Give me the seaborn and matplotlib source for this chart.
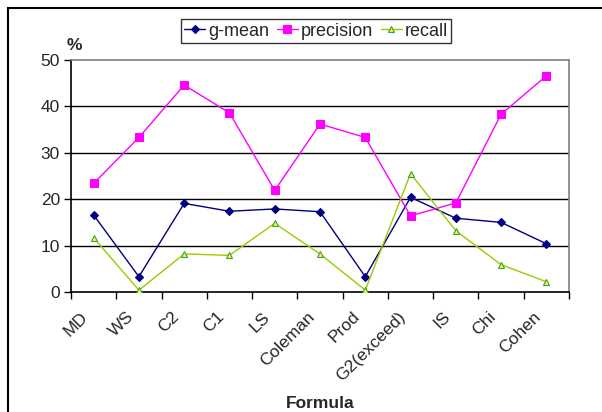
import matplotlib
matplotlib.use("Agg")
import matplotlib.pyplot as plt
import matplotlib.transforms as mtransforms
import seaborn as sns
import pandas as pd
import numpy as np
from matplotlib.patches import Rectangle

formulas = ["MD", "WS", "C2", "C1", "LS", "Coleman", "Prod", "G2(exceed)", "IS", "Chi", "Cohen"]
g_mean = [16.6, 3.3, 19.1, 17.4, 17.9, 17.3, 3.3, 20.4, 15.9, 15.0, 10.4]
precision = [23.4, 33.3, 44.6, 38.6, 21.9, 36.2, 33.3, 16.4, 19.2, 38.3, 46.6]
recall = [11.7, 0.4, 8.2, 7.9, 14.8, 8.2, 0.4, 25.5, 13.2, 5.9, 2.2]
y_ticks = [0, 10, 20, 30, 40, 50]

sns.set_theme(style="white")
plt.rcParams['font.family'] = ['Liberation Sans', 'DejaVu Sans']

fig = plt.figure(figsize=(6.02, 4.12), dpi=100)
W, H = 602, 412
ax = fig.add_axes([71 / W, (H - 292) / H, (569 - 71) / W, (292 - 60) / H])

# outer chart border (left and top visible)
fig.patches.append(Rectangle((8 / W, -0.1), 1.2, (H - 8) / H + 0.1, transform=fig.transFigure,
                             fill=False, edgecolor="black", linewidth=1.5, zorder=0))

df = pd.DataFrame({"Formula": formulas * 3,
                   "value": g_mean + precision + recall,
                   "series": ["g-mean"] * 11 + ["precision"] * 11 + ["recall"] * 11})
df["x"] = np.tile(np.arange(len(formulas)), 3)

styles = {
    "g-mean": dict(color="#000080", marker="D", markersize=4, mfc="#000080", mec="#000080"),
    "precision": dict(color="#FF00FF", marker="s", markersize=6, mfc="#FF00FF", mec="#FF00FF"),
    "recall": dict(color="#99CC00", marker="^", markersize=5, mfc="#FFFF00", mec="#339966"),
}
for name, st in styles.items():
    sub = df[df["series"] == name]
    sns.lineplot(data=sub, x="x", y="value", ax=ax, label=name, color=st["color"],
                 linewidth=1.0, marker=st["marker"], markersize=st["markersize"],
                 markerfacecolor=st["mfc"], markeredgecolor=st["mec"], markeredgewidth=0.8,
                 zorder=3)

ax.set_xlim(-0.5, len(formulas) - 0.5)
ax.set_ylim(0, 50)
ax.set_yticks(y_ticks)
ax.set_yticklabels([str(v) for v in y_ticks], fontsize=12.5)
for v in y_ticks[1:-1]:
    ax.axhline(v, color="black", linewidth=1.0, zorder=1)

ax.set_xticks(np.arange(len(formulas)))
ax.set_xticklabels(formulas, rotation=45, ha="right", rotation_mode="anchor", fontsize=12.5)
ax.set_xticks(np.arange(len(formulas) + 1) - 0.5, minor=True)
ax.tick_params(axis="x", which="major", length=0, pad=8)
ax.tick_params(axis="x", which="minor", length=5, width=1, color="black", direction="out", bottom=True)
ax.tick_params(axis="y", which="major", length=5, width=1, color="black", direction="out", left=True, pad=3)
offset = mtransforms.ScaledTranslation(-13 / 100, -6 / 100, fig.dpi_scale_trans)
for lbl in ax.get_xticklabels():
    lbl.set_transform(lbl.get_transform() + offset)

for side in ["top", "right"]:
    ax.spines[side].set_color("#808080")
    ax.spines[side].set_linewidth(1.2)
for side in ["left", "bottom"]:
    ax.spines[side].set_color("black")
    ax.spines[side].set_linewidth(1.2)

ax.set_xlabel("")
ax.set_ylabel("")
fig.text(67 / W, 1 - 46 / H, "%", fontsize=12.5, fontweight="bold", ha="left", va="center")
fig.text(320 / W, 1 - 404 / H, "Formula", fontsize=12.5, fontweight="bold", ha="center", va="center")

leg = ax.legend(loc="center", bbox_to_anchor=(316 / W, 1 - 31 / H), bbox_transform=fig.transFigure,
                ncol=3, frameon=True, fancybox=False, fontsize=13, handlelength=1.15,
                handletextpad=0.15, columnspacing=0.45, borderpad=0.2, borderaxespad=0)
leg.get_frame().set_edgecolor("black")
leg.get_frame().set_linewidth(1.0)

fig.savefig("out.png", dpi=100)
